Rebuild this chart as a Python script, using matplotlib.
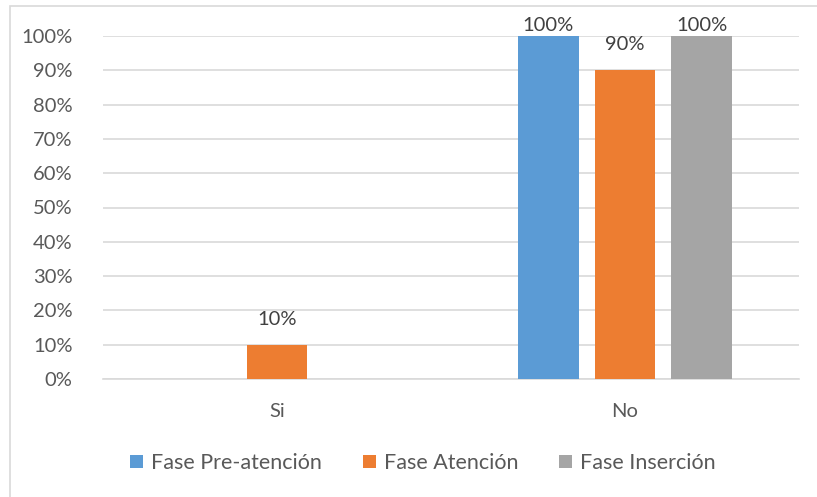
import numpy as np
import matplotlib
matplotlib.use("Agg")
import matplotlib.pyplot as plt
import matplotlib.ticker as mticker
from matplotlib.patches import Rectangle

categories = ["Si", "No"]
series_names = ["Fase Pre-atención", "Fase Atención", "Fase Inserción"]
values = {
    "Fase Pre-atención": [0, 100],
    "Fase Atención": [10, 90],
    "Fase Inserción": [0, 100],
}
colors = ["#5B9BD5", "#ED7D31", "#A5A5A5"]

plt.rcParams["font.family"] = ["Lato", "DejaVu Sans"]
text_color = "#595959"
fs = 14.5

W, H = 817, 497
fig = plt.figure(figsize=(W / 100, H / 100), dpi=100, facecolor="white")

# outer chart frame (Excel style), cut off at right/bottom
fig.patches.append(Rectangle((10 / W, -0.2), 1.2, (H - 6) / H + 0.2, transform=fig.transFigure,
                             fill=False, edgecolor="#D9D9D9", linewidth=1.2))

ax = fig.add_axes([103 / W, 1 - 379 / H, (799 - 103) / W, (379 - 36) / H])
x = np.arange(len(categories))
offset = 0.221
width = 0.175
for i, name in enumerate(series_names):
    vals = values[name]
    pos = x + (i - 1) * offset
    ax.bar(pos, vals, width=width, color=colors[i], label=name, zorder=3)
    for p, v in zip(pos, vals):
        if v > 0:
            ax.text(p, min(v + 5, 100.5), f"{v}%", ha="center", va="bottom",
                    fontsize=fs, color="#404040", zorder=4, clip_on=False)

ax.set_xlim(-0.5, 1.5)
ax.set_ylim(0, 100)
ax.yaxis.set_major_locator(mticker.MultipleLocator(10))
ax.yaxis.set_major_formatter(mticker.FuncFormatter(lambda v, _: f"{v:.0f}%"))
ax.set_xticks(x)
ax.set_xticklabels(categories)
ax.grid(axis="y", color="#D9D9D9", linewidth=1.2, zorder=0)
for s in ["top", "right", "left"]:
    ax.spines[s].set_visible(False)
ax.spines["bottom"].set_color("#D9D9D9")
ax.spines["bottom"].set_linewidth(1.2)
ax.tick_params(axis="both", length=0, labelsize=fs, colors=text_color)
ax.tick_params(axis="y", pad=22)
ax.tick_params(axis="x", pad=17)

leg = ax.legend(loc="center", bbox_to_anchor=(0.46, (379 - 463) / (379 - 36)),
                ncol=3, frameon=False, fontsize=15.5, handlelength=0.6, handleheight=0.6,
                handletextpad=0.37, columnspacing=1.9)
for t in leg.get_texts():
    t.set_color(text_color)

fig.savefig("out.png", dpi=100, facecolor="white")
